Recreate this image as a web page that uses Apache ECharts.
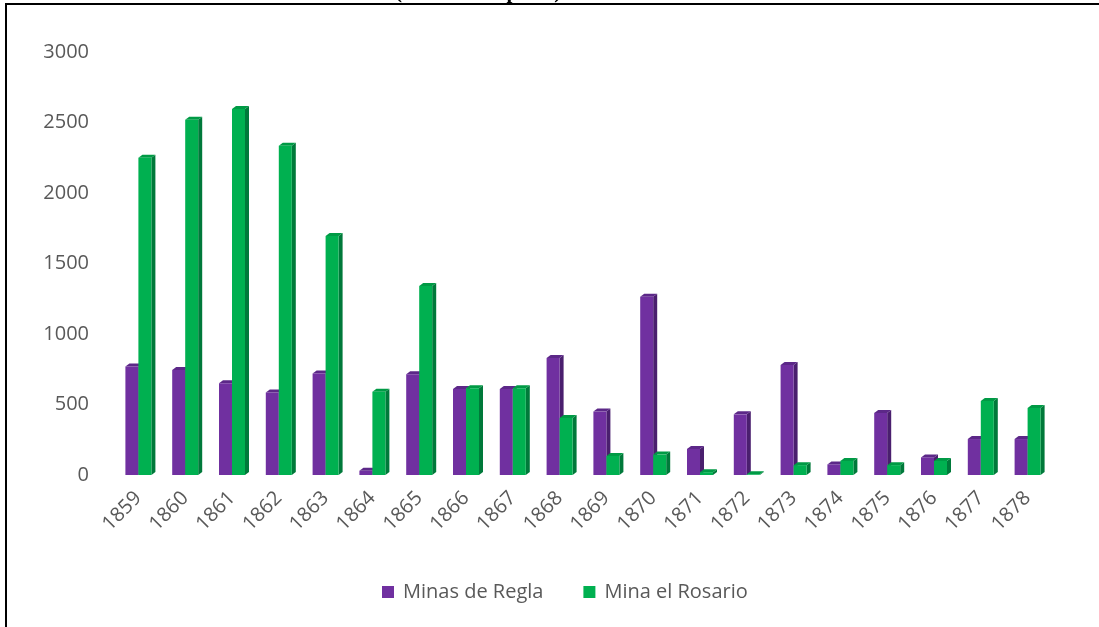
<!DOCTYPE html>
<html>
<head>
<meta charset="utf-8">
<script src="https://cdn.jsdelivr.net/npm/echarts@6/dist/echarts.min.js"></script>
<style>
  html, body { margin: 0; padding: 0; background: #fff; }
  #main { width: 1099px; height: 627px; }
</style>
</head>
<body>
<div id="main"></div>
<script>
// datos
var years = ['1859', '1860', '1861', '1862', '1863', '1864', '1865', '1866', '1867', '1868',
  '1869', '1870', '1871', '1872', '1873', '1874', '1875', '1876', '1877', '1878'];
var minasDeRegla = [770, 745, 650, 585, 720, 30, 715, 610, 610, 830,
  450, 1265, 185, 430, 780, 75, 440, 125, 255, 255];
var minaElRosario = [2250, 2520, 2595, 2335, 1695, 590, 1340, 615, 615, 405,
  135, 145, 20, 5, 70, 100, 70, 100, 525, 475];
var yTicks = [0, 500, 1000, 1500, 2000, 2500, 3000];

var BAR_W = 13;
var DX = 4, DY = 3;

var chartDom = document.getElementById('main');
var myChart = echarts.init(chartDom);

// caras laterales y superiores (efecto 3D)
function faces(idx, sideColor, topColor) {
  return function (params, api) {
    var i = api.value(0);
    var top = api.coord([i, api.value(1)]);
    var base = api.coord([i, 0]);
    var x0 = top[0] - BAR_W + idx * BAR_W;
    var x1 = x0 + BAR_W;
    return {
      type: 'group',
      children: [
        {
          type: 'polygon',
          shape: { points: [[x1, top[1]], [x1 + DX, top[1] - DY], [x1 + DX, base[1] - DY], [x1, base[1]]] },
          style: { fill: sideColor }
        },
        {
          type: 'polygon',
          shape: { points: [[x0, top[1]], [x0 + DX, top[1] - DY], [x1 + DX, top[1] - DY], [x1, top[1]]] },
          style: { fill: topColor }
        }
      ]
    };
  };
}

function pairs(arr) {
  return arr.map(function (v, i) { return [i, v]; });
}

var option = {
  animation: false,
  textStyle: { fontFamily: 'Open Sans' },
  grid: { left: 115, right: 48, top: 52, bottom: 152 },
  graphic: [
    {
      type: 'text',
      left: 395,
      top: -18,
      style: { text: '(en miles de pesos)', font: 'bold 21px "Liberation Serif"', fill: '#000' }
    },
    {
      type: 'rect',
      shape: { x: 6, y: 4, width: 1200, height: 800 },
      style: { fill: 'none', stroke: '#000', lineWidth: 2 }
    }
  ],
  legend: {
    bottom: 20,
    left: 377,
    itemWidth: 12,
    itemHeight: 12,
    itemGap: 40,
    icon: 'rect',
    data: ['Minas de Regla', 'Mina el Rosario'],
    textStyle: { fontSize: 20, color: '#595959', fontFamily: 'Open Sans', padding: [0, 0, 0, 4] }
  },
  xAxis: {
    type: 'category',
    data: years,
    axisLine: { show: false },
    axisTick: { show: false },
    axisLabel: { rotate: 45, interval: 0, fontSize: 20, color: '#595959', margin: 20 }
  },
  yAxis: {
    type: 'value',
    min: yTicks[0],
    max: yTicks[yTicks.length - 1],
    interval: 500,
    splitLine: { show: false },
    axisLine: { show: false },
    axisTick: { show: false },
    axisLabel: {
      fontSize: 20, color: '#595959', margin: 26,
      formatter: function (v) { return String(v); }
    }
  },
  series: [
    {
      name: 'Minas de Regla',
      type: 'bar',
      data: minasDeRegla,
      barWidth: BAR_W,
      barGap: '0%',
      itemStyle: { color: '#7030A0' }
    },
    {
      type: 'custom',
      data: pairs(minasDeRegla),
      encode: { x: 0, y: 1 },
      renderItem: faces(0, '#4A1F6E', '#5C2888')
    },
    {
      name: 'Mina el Rosario',
      type: 'bar',
      data: minaElRosario,
      barWidth: BAR_W,
      barGap: '0%',
      itemStyle: { color: '#00B050' }
    },
    {
      type: 'custom',
      data: pairs(minaElRosario),
      encode: { x: 0, y: 1 },
      renderItem: faces(1, '#00793A', '#009A45')
    }
  ]
};

option && myChart.setOption(option);
</script>
</body>
</html>
